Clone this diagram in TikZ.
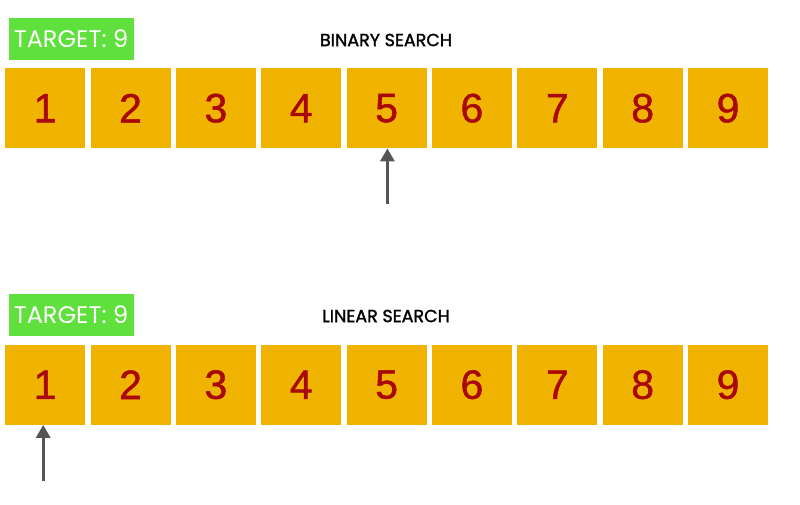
\documentclass[tikz,border=0pt]{standalone}
\usepackage{fontspec}
\setmainfont{Liberation Sans}
\newfontfamily\numfont[FakeBold=1.2]{Liberation Sans}
\newfontfamily\titlefont[FakeBold=1.5]{Poppins}
\newfontfamily\tgtfont{Poppins}
\usetikzlibrary{arrows.meta}
\definecolor{boxc}{RGB}{240,180,0}
\definecolor{numc}{RGB}{168,8,8}
\definecolor{tgt}{RGB}{95,224,60}
\definecolor{arr}{RGB}{85,85,85}
\begin{document}
\begin{tikzpicture}[x=1pt,y=-1pt,
  cell/.style={fill=boxc,draw=none,minimum width=80pt,minimum height=80pt,inner sep=0pt,anchor=north west,
    text=numc,font=\numfont\fontsize{41}{41}\selectfont},
  target/.style={fill=tgt,draw=none,minimum width=125pt,minimum height=42pt,inner sep=0pt,anchor=north west,
    text=white,font=\tgtfont\fontsize{24}{24}\selectfont},
  title/.style={font=\titlefont\fontsize{17.5}{17.5}\selectfont,text=black,inner sep=0pt},
  pointer/.style={draw=arr,line width=3pt,-{Triangle[width=14pt,length=13pt]}}]
\useasboundingbox[fill=white] (0,0) rectangle (800,504);
% binary search
\node[target] (t1) at (8.3,17.3) {TARGET: 9};
\node[title] (h1) at (386,40) {BINARY SEARCH};
\foreach \i in {1,...,9}{
  \node[cell] (a\i) at ({5+85.35*(\i-1)},68) {\i};
}
\coordinate (p1) at ([xshift=0.8pt,yshift=-56pt]a5.south);
\coordinate (q1) at ([xshift=0.8pt]a5.south);
\draw[pointer] (p1) -- (q1);
% linear search
\node[target] (t2) at (8.3,294) {TARGET: 9};
\node[title] (h2) at (386,316) {LINEAR SEARCH};
\foreach \i in {1,...,9}{
  \node[cell] (b\i) at ({5+85.35*(\i-1)},344.5) {\i};
}
\coordinate (p2) at ([xshift=-2pt,yshift=-56.5pt]b1.south);
\coordinate (q2) at ([xshift=-2pt]b1.south);
\draw[pointer] (p2) -- (q2);
\end{tikzpicture}
\end{document}
